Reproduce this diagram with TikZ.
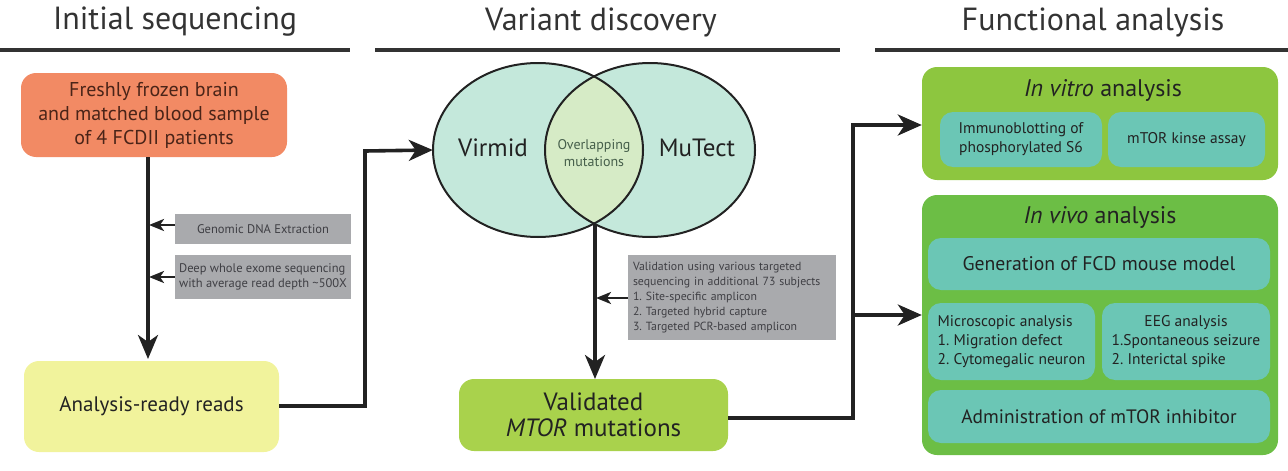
\documentclass[tikz,border=0pt]{standalone}
\usepackage{fontspec}
\setmainfont{PT Sans}
\usetikzlibrary{shapes.geometric,arrows.meta}
\newcommand\fsz[2]{\fontsize{#1}{#2}\selectfont}
\definecolor{hdr}{HTML}{333333}
\definecolor{orangebox}{HTML}{F28A64}
\definecolor{orangetxt}{HTML}{4A2418}
\definecolor{yellowbox}{HTML}{F1F39C}
\definecolor{graybox}{HTML}{A9AAAD}
\definecolor{graytxt}{HTML}{3F3F44}
\definecolor{mint}{HTML}{C4E8DB}
\definecolor{lens}{HTML}{D6EBC6}
\definecolor{lime}{HTML}{A9D24C}
\definecolor{vitro}{HTML}{8DC63F}
\definecolor{vivo}{HTML}{6CBE45}
\definecolor{teal}{HTML}{6BC6B5}
\definecolor{ink}{HTML}{222222}
\tikzset{
  hdrtext/.style={text=hdr,font=\fsz{32}{34}},
  hdrline/.style={line width=3.5pt,draw=hdr},
  bigbox/.style={rounded corners=15pt,inner sep=0pt,align=center},
  grayrect/.style={fill=graybox,inner sep=0pt,text=graytxt,font=\fsz{12.5}{15}},
  tealbox/.style={fill=teal,rounded corners=13pt,inner sep=0pt,text=ink},
  mainarrow/.style={line width=3.6pt,draw=ink,-{Stealth[length=24pt,width=20pt,inset=7pt]}},
  flow/.style={line width=3.6pt,draw=ink,-{Stealth[length=24pt,width=21pt,inset=7pt]}},
  smallarrow/.style={line width=2.6pt,draw=ink,-{Stealth[length=15pt,width=12pt,inset=4pt]}},
  plainline/.style={line width=3.6pt,draw=ink},
}
\begin{document}
\frenchspacing
\begin{tikzpicture}[x=1pt,y=-1pt]
\useasboundingbox (0,0) rectangle (1288,471);
% headers
\node[hdrtext] (h1) at (175,22) {Initial sequencing};
\node[hdrtext] (h2) at (601,22) {Variant discovery};
\node[hdrtext] (h3) at (1093,22) {Functional analysis};
\coordinate (l1a) at (0,50); \coordinate (l1b) at (350,50);
\coordinate (l2a) at (375,50); \coordinate (l2b) at (840,50);
\coordinate (l3a) at (875,50); \coordinate (l3b) at (1288,50);
\draw[hdrline] (l1a) -- (l1b);
\draw[hdrline] (l2a) -- (l2b);
\draw[hdrline] (l3a) -- (l3b);

% left column
\node[bigbox,fill=orangebox,minimum width=266pt,minimum height=84pt,text=orangetxt,font=\fsz{20}{24}] (sample) at (154,115)
  {Freshly frozen brain\\and matched blood sample\\of 4 FCDII patients};
\node[bigbox,fill=yellowbox,minimum width=255pt,minimum height=91pt,text=ink,font=\fsz{21}{24}] (reads) at (151.5,406.5)
  {Analysis-ready reads};
\node[grayrect,minimum width=176pt,minimum height=30pt] (dna) at (263,229) {Genomic DNA Extraction};
\node[grayrect,minimum width=176pt,minimum height=44pt,align=left] (wes) at (263,277)
  {Deep whole exome sequencing\\with average read depth \textasciitilde{}500X};
\draw[mainarrow] (148,157) coordinate (s1) -- (148,359) coordinate (s2);
\coordinate (j1) at (149,225);
\coordinate (j2) at (149,277);
\draw[smallarrow] (dna.west |- j1) -- (j1);
\draw[smallarrow] (wes.west |- j2) -- (j2);

% Venn
\node[ellipse,fill=mint,minimum width=210pt,minimum height=174pt,inner sep=0pt] (virmid) at (538,150) {};
\node[ellipse,fill=mint,minimum width=210pt,minimum height=174pt,inner sep=0pt] (mutect) at (650,150) {};
\begin{scope}
  \clip (538,150) ellipse [x radius=105pt, y radius=87pt];
  \fill[lens] (650,150) ellipse [x radius=105pt, y radius=87pt];
\end{scope}
\draw[ink,line width=2pt] (538,150) ellipse [x radius=105pt, y radius=87pt];
\draw[ink,line width=2pt] (650,150) ellipse [x radius=105pt, y radius=87pt];
\node[text=ink,font=\fsz{25}{27}] (virmidlbl) at (493,148) {Virmid};
\node[text=ink,font=\fsz{25}{27}] (mutectlbl) at (697,148) {MuTect};
\node[text={rgb,255:red,70;green,95;blue,75},font=\fsz{14}{17},align=center] (overlap) at (594,153) {Overlapping\\mutations};
\coordinate (lensbot) at (595,223.5);

\node[bigbox,fill=lime,minimum width=269pt,minimum height=72pt,text=ink,font=\fsz{25}{26}] (valid) at (593.5,415)
  {Validated\\\textit{MTOR} mutations};
\node[grayrect,minimum width=208pt,minimum height=85pt,align=left,text width=198pt,font=\fsz{11.8}{15}] (valbox) at (732,297.5)
  {Validation using various targeted\\sequencing in additional 73 subjects\\1. Site-specific amplicon\\2. Targeted hybrid capture\\3. Targeted PCR-based amplicon};
\draw[mainarrow] (lensbot) -- (595,379) coordinate (vtop);
\coordinate (j3) at (596,298);
\draw[smallarrow] (valbox.west |- j3) -- (j3);

% reads -> virmid
\coordinate (c1) at (365,406);
\coordinate (c2) at (365,151);
\draw[flow] (reads.east |- c1) -- (c1) -- (c2) -- (virmid.west);

% right column
\node[bigbox,fill=vitro,minimum width=356pt,minimum height=113pt] (vitrobox) at (1100,123.5) {};
\node[text=ink,font=\fsz{24}{26}] (vitrotitle) at (1103,90) {\textit{In vitro} analysis};
\node[tealbox,minimum width=162pt,minimum height=55pt,align=center,font=\fsz{15.5}{19}] (immuno) at (1021,139.5)
  {Immunoblotting of\\phosphorylated S6};
\node[tealbox,minimum width=157pt,minimum height=55pt,font=\fsz{15.5}{19}] (kinase) at (1186.5,139.5) {mTOR kinse assay};

\node[bigbox,fill=vivo,minimum width=356pt,minimum height=260pt] (vivobox) at (1100,325) {};
\node[text=ink,font=\fsz{24}{26}] (vivotitle) at (1100,217) {\textit{In vivo} analysis};
\node[tealbox,minimum width=342pt,minimum height=52pt,font=\fsz{19.7}{22}] (gen) at (1099,264) {Generation of FCD mouse model};
\node[tealbox,minimum width=167pt,minimum height=77pt,align=left,font=\fsz{15.5}{19}] (micro) at (1011.5,341.5)
  {Microscopic analysis\\1. Migration defect\\2. Cytomegalic neuron};
\node[tealbox,minimum width=168pt,minimum height=77pt,font=\fsz{15.5}{19}] (eeg) at (1186,341.5)
  {\begin{tabular}{@{}l@{}}\multicolumn{1}{@{}c@{}}{EEG analysis}\\1.Spontaneous seizure\\2. Interictal spike\end{tabular}};
\node[tealbox,minimum width=342pt,minimum height=53pt,font=\fsz{19.4}{22}] (admin) at (1099,416.5) {Administration of mTOR inhibitor};

% valid -> functional
\coordinate (c3) at (853,418);
\coordinate (c4) at (853,125);
\coordinate (c5) at (853,315);
\draw[plainline] (valid.east |- c3) -- (c3) -- ([yshift=-1.8pt]c4);
\draw[flow] ([xshift=-1.8pt]c4) -- (vitrobox.west |- c4);
\draw[flow] (c5) -- (vivobox.west |- c5);
\end{tikzpicture}
\end{document}
